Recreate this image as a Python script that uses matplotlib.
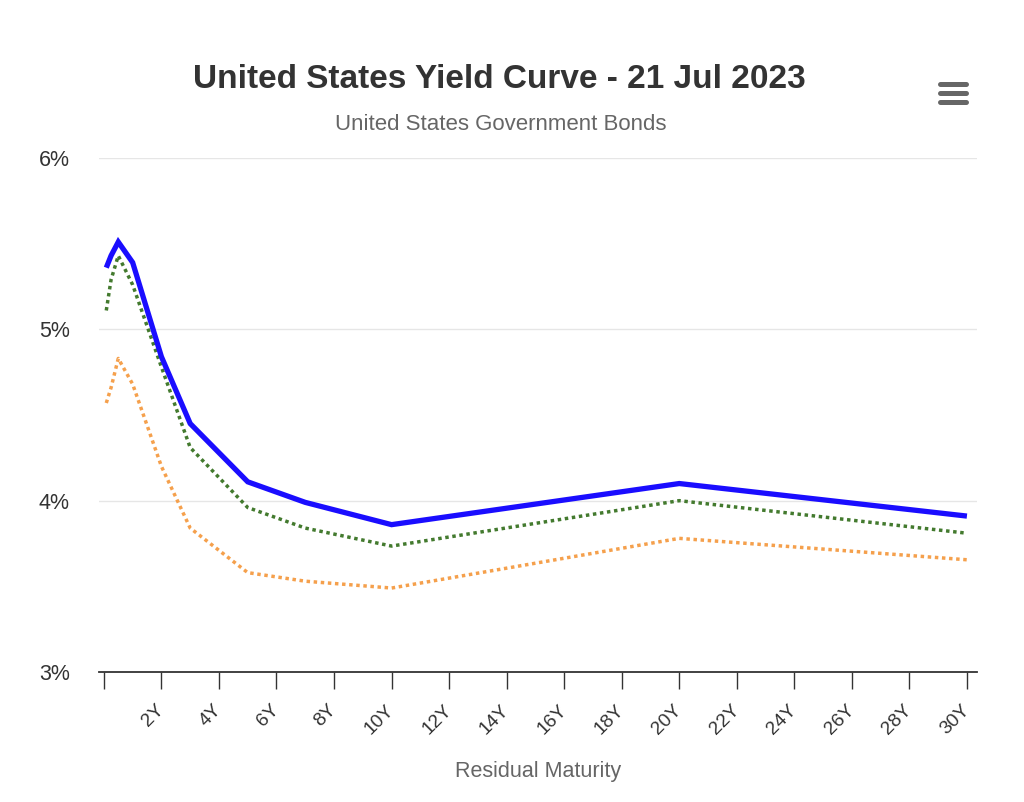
import matplotlib
matplotlib.use("Agg")
import matplotlib.pyplot as plt
from matplotlib.lines import Line2D

# Data (maturity in years, yield in %)
maturities = [1/12, 0.25, 0.5, 1, 2, 3, 5, 7, 10, 20, 30]
yield_current = [5.36, 5.43, 5.51, 5.39, 4.84, 4.45, 4.11, 3.99, 3.86, 4.10, 3.91]
yield_green = [5.11, 5.29, 5.43, 5.26, 4.78, 4.31, 3.96, 3.84, 3.735, 4.00, 3.81]
yield_orange = [4.57, 4.66, 4.83, 4.68, 4.20, 3.84, 3.58, 3.53, 3.49, 3.78, 3.655]
tick_years = list(range(0, 31, 2))
tick_labels = ["" if y == 0 else f"{y}Y" for y in tick_years]
y_ticks = [3, 4, 5, 6]
y_labels = ["3%", "4%", "5%", "6%"]

plt.rcParams['font.family'] = ['Liberation Sans', 'DejaVu Sans']

fig = plt.figure(figsize=(10.24, 8.02), dpi=100)
ax = fig.add_axes([99/1024, 1-672/802, (977-99)/1024, (672-158)/802])

ax.plot(maturities, yield_orange, color="#f5a04c", lw=2.5, linestyle=(0, (1, 1.05)),
        dash_capstyle="butt", zorder=3)
ax.plot(maturities, yield_green, color="#437a2e", lw=2.5, linestyle=(0, (1, 1.05)),
        dash_capstyle="butt", zorder=4)
ax.plot(maturities, yield_current, color="#1a0dff", lw=3.8, zorder=5,
        solid_joinstyle="miter", solid_capstyle="butt")

ax.set_xlim(-0.17, 30.35)
ax.set_ylim(3, 6)
ax.set_yticks(y_ticks)
ax.set_yticklabels(y_labels)
ax.set_xticks(tick_years)
ax.set_xticklabels(tick_labels, rotation=45, ha="right", va="center", rotation_mode="anchor")

ax.grid(axis="y", color="#e6e6e6", lw=1)
ax.set_axisbelow(True)
for s in ["top", "right", "left"]:
    ax.spines[s].set_visible(False)
ax.spines["bottom"].set_color("#333333")
ax.spines["bottom"].set_linewidth(1.3)
ax.tick_params(axis="x", direction="out", length=12.2, width=1, color="#333333",
               labelsize=13.8, labelcolor="#333333", pad=13.5)
ax.tick_params(axis="y", length=0, labelsize=15.5, labelcolor="#333333", pad=21)

fig.text(538/1024, 1-771/802, "Residual Maturity", ha="center", va="center",
         fontsize=15.5, color="#666666")

fig.text(499/1024, 1-80/802, "United States Yield Curve - 21 Jul 2023", ha="center", va="center",
         fontsize=24, fontweight="bold", color="#333333")
fig.text(501/1024, 1-124/802, "United States Government Bonds", ha="center", va="center",
         fontsize=16, color="#666666")

# menu icon
for yy in [83.5, 92.5, 101.5]:
    fig.add_artist(Line2D([940/1024, 966/1024], [1-yy/802, 1-yy/802], color="#666666",
                          lw=3.6, solid_capstyle="round", transform=fig.transFigure))

fig.savefig("out.png", dpi=100, facecolor="white")
